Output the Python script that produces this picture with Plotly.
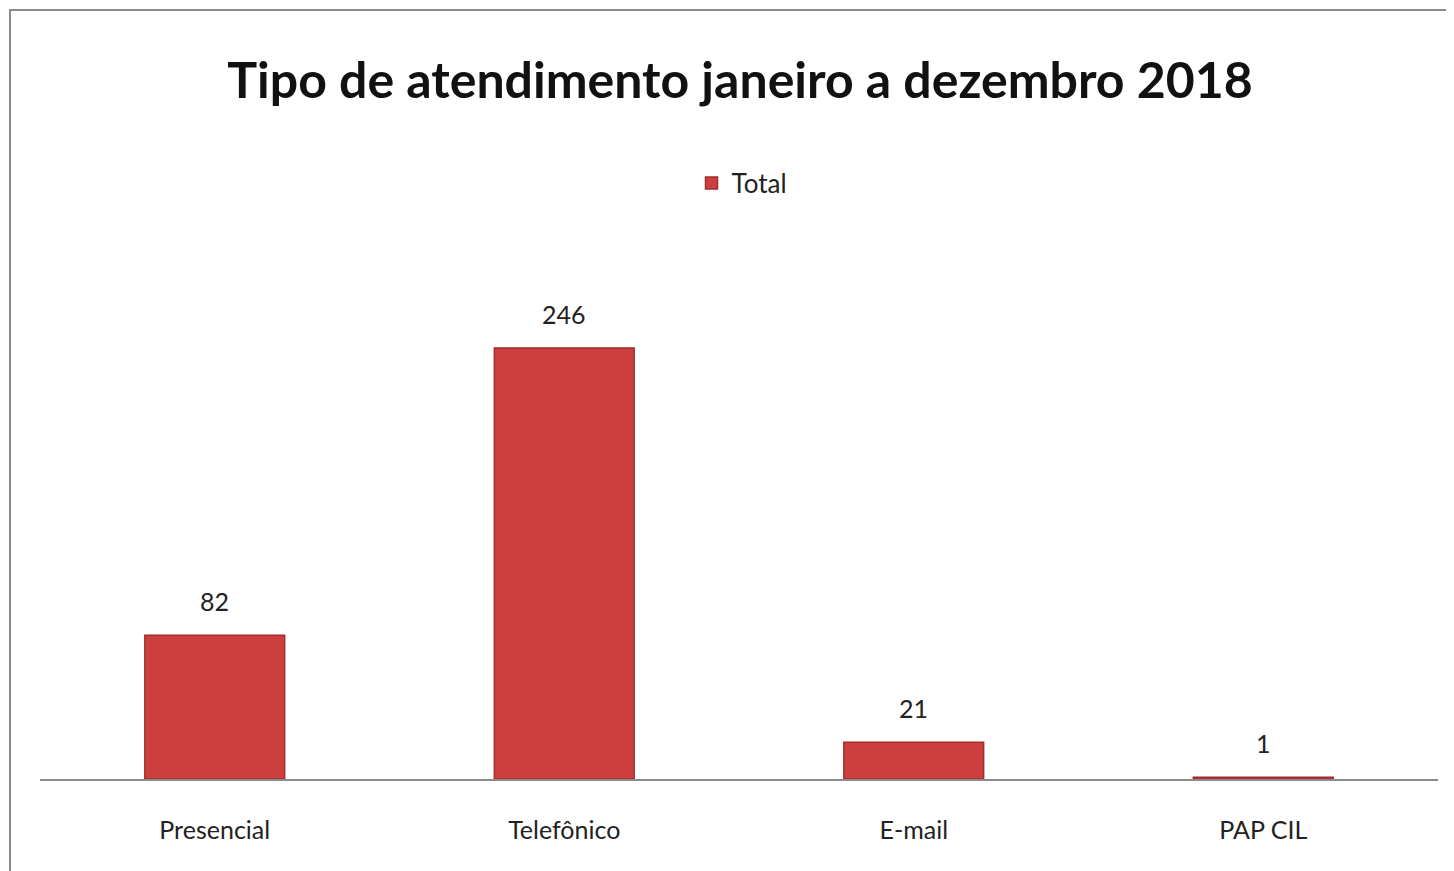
import plotly.graph_objects as go

categories = ["Presencial", "Telefônico", "E-mail", "PAP CIL"]
totals = [82, 246, 21, 1]
series_name = "Total"
title_text = "Tipo de atendimento janeiro a dezembro 2018"

# page is rendered with an 8px body margin; work in page pixels and convert
OFF = 8
W, H = 1454 - OFF, 871 - OFF
plot_left, plot_right, plot_top, plot_bottom = 40, 1438, 230, 779
ml = plot_left - OFF
mt = plot_top - OFF
mr = W - (plot_right - OFF)
mb = H - (plot_bottom - OFF)
pw, ph = W - ml - mr, H - mt - mb

fig = go.Figure()
fig.add_trace(go.Bar(
    x=categories, y=totals, name=series_name,
    marker=dict(color="#cd3f3f", line=dict(color="#a32c2c", width=1.5)),
    width=0.4,
))

for c, v in zip(categories, totals):
    fig.add_annotation(x=c, y=v, text=str(v), showarrow=False, yshift=34,
                       font=dict(family="Lato", size=25, color="#222222"))

def px_x(p):
    return (p - plot_left) / pw

def px_y(p):
    return (plot_bottom - p) / ph

fig.add_shape(type="rect", xref="paper", yref="paper",
              x0=px_x(10), x1=px_x(1470), y0=px_y(900), y1=px_y(10),
              line=dict(color="#8a8a8a", width=2), fillcolor="rgba(0,0,0,0)", layer="below")

fig.update_layout(
    width=W, height=H,
    margin=dict(l=ml, r=mr, t=mt, b=mb),
    paper_bgcolor="white", plot_bgcolor="white",
    title=dict(text="<b>" + title_text + "</b>", x=px_x(740), xanchor="center",
               xref="paper", y=1 - (80 - OFF) / H, yanchor="middle",
               font=dict(family="Lato", size=50, color="#111111")),
    showlegend=True,
    legend=dict(orientation="h", x=px_x(742), xanchor="center",
                y=px_y(183), yanchor="middle",
                font=dict(family="Lato", size=26, color="#222222")),
    xaxis=dict(showline=True, linecolor="#8c8c8c", linewidth=2, showgrid=False,
               ticks="outside", ticklen=28, tickcolor="rgba(0,0,0,0)",
               tickfont=dict(family="Lato", size=25, color="#222222")),
    yaxis=dict(visible=False, range=[0, 246 * ph / (779 - 348)]),
    bargap=0.6,
)

fig.write_html("out.html")
